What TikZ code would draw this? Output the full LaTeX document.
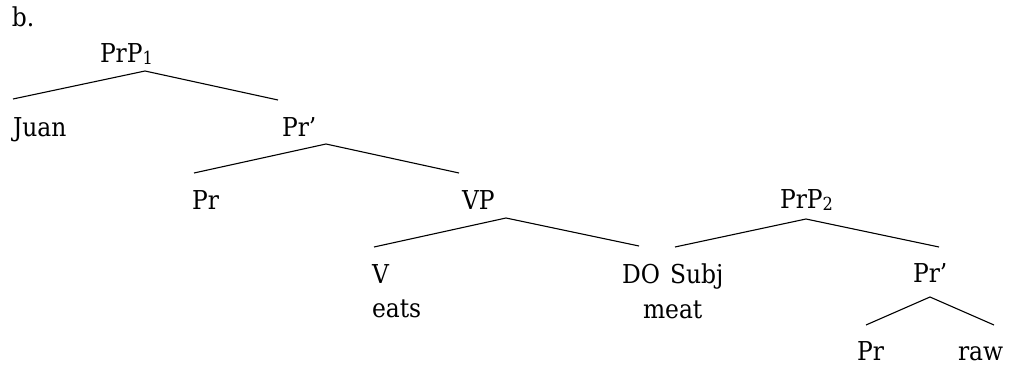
\documentclass[tikz,border=0pt]{standalone}
\usepackage{fontspec}
\setmainfont[FakeStretch=0.9]{DejaVu Serif}
\newcommand\subnum[1]{\raisebox{-1.5pt}{\fontsize{18}{18}\selectfont #1}}
\tikzset{
  lbl/.style={anchor=base west, inner sep=0pt, outer sep=0pt, font=\fontsize{26}{30}\selectfont},
  branch/.style={line width=1.1pt, line join=miter}
}
\begin{document}
\begin{tikzpicture}[x=1pt, y=-1pt]
\useasboundingbox (0,0) rectangle (1012,366);
% labels
\node[lbl] (b) at (12,27) {b.};
\node[lbl] (prp1) at (100,63) {PrP\subnum{1}};
\node[lbl] (juan) at (13,137) {Juan};
\node[lbl] (prbar1) at (282,137) {Pr’};
\node[lbl] (pr1) at (192,210) {Pr};
\node[lbl] (vp) at (462,210) {VP};
\node[lbl] (v) at (372,283) {V};
\node[lbl] (eats) at (372,317) {eats};
\node[lbl] (do) at (622,283) {DO};
\node[lbl] (subj) at (670,283) {Subj};
\node[lbl] (meat) at (643,318) {meat};
\node[lbl] (prp2) at (780,209) {PrP\subnum{2}};
\node[lbl] (prbar2) at (913,282) {Pr’};
\node[lbl] (pr2) at (857,360) {Pr};
\node[lbl] (raw) at (958,360) {raw};
% branch points
\coordinate (a1) at (145,71);  \coordinate (a1l) at (13,99);  \coordinate (a1r) at (278,100);
\coordinate (a2) at (326,144); \coordinate (a2l) at (194,173); \coordinate (a2r) at (459,173);
\coordinate (a3) at (506,218); \coordinate (a3l) at (374,247); \coordinate (a3r) at (639,246);
\coordinate (a4) at (806,219); \coordinate (a4l) at (675,247); \coordinate (a4r) at (939,247);
\coordinate (a5) at (930,297); \coordinate (a5l) at (866,325); \coordinate (a5r) at (994,325);
\draw[branch] (a1l) -- (a1) -- (a1r);
\draw[branch] (a2l) -- (a2) -- (a2r);
\draw[branch] (a3l) -- (a3) -- (a3r);
\draw[branch] (a4l) -- (a4) -- (a4r);
\draw[branch] (a5l) -- (a5) -- (a5r);
\end{tikzpicture}
\end{document}
